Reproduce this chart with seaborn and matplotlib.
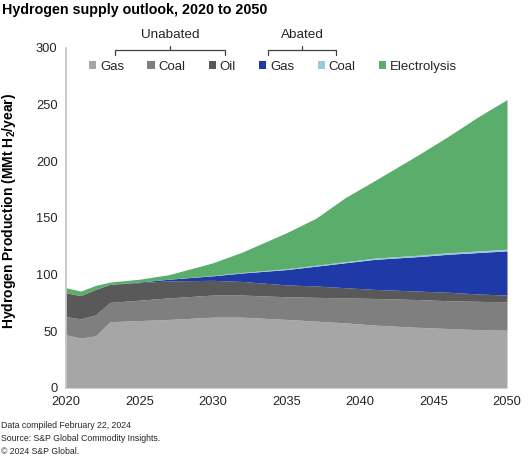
import pandas as pd
import matplotlib.pyplot as plt
import seaborn as sns
from matplotlib.lines import Line2D
from matplotlib.patches import Patch

# Values (MMt H2 / year)
years = [2020, 2021, 2022, 2023, 2025, 2027, 2030, 2032, 2035, 2037, 2039, 2041, 2044, 2046, 2048, 2050]
gas_unabated = [47, 44, 46, 58.5, 59.5, 60.5, 62.5, 62.5, 60.5, 59, 57.5, 55.5, 53.5, 52.5, 51.5, 51]
coal_unabated = [16, 17, 18.5, 17, 18, 19, 19.5, 19.5, 20, 21, 22, 23.5, 24.5, 24.5, 25, 25]
oil_unabated = [21, 20.5, 22.5, 16, 15.5, 15, 13, 12, 10.5, 10, 9, 8, 7.5, 7.5, 6.5, 6]
gas_abated = [0, 0, 0, 0, 0.5, 1.5, 4, 7.5, 13.5, 17.5, 22, 26.5, 30.5, 33.5, 36.5, 39]
coal_abated = [0, 0, 0, 0, 0, 0, 0.3, 0.5, 0.7, 0.8, 1, 1.1, 1.2, 1.3, 1.4, 1.5]
electrolysis = [4.5, 4, 3.5, 2, 2.5, 4, 11.2, 18, 31.8, 41.5, 56.5, 68.4, 88.8, 102.7, 118.1, 132]

labels = ["Gas", "Coal", "Oil", "Gas", "Coal", "Electrolysis"]
colors = ["#a6a6a6", "#7f7f7f", "#595959", "#1f39a6", "#9dc8dc", "#5aad6a"]

df = pd.DataFrame({
    "year": years,
    "gas_u": gas_unabated,
    "coal_u": coal_unabated,
    "oil_u": oil_unabated,
    "gas_a": gas_abated,
    "coal_a": coal_abated,
    "elec": electrolysis,
})

sns.set_theme(style="white")
plt.rcParams["font.family"] = ["Liberation Sans", "DejaVu Sans"]
plt.rcParams["mathtext.fontset"] = "custom"
plt.rcParams["mathtext.rm"] = "Liberation Sans"
plt.rcParams["mathtext.bf"] = "Liberation Sans:bold"

W, H = 531, 458
fig = plt.figure(figsize=(W / 100, H / 100), dpi=100)
ax = fig.add_axes([66 / W, 1 - 388 / H, 441 / W, 340 / H])

ax.stackplot(df["year"], df["gas_u"], df["coal_u"], df["oil_u"],
             df["gas_a"], df["coal_a"], df["elec"], colors=colors, lw=0)

ax.set_xlim(2020, 2050)
ax.set_ylim(0, 300)
ax.set_xticks(range(2020, 2051, 5))
ax.set_yticks(range(0, 301, 50))
ax.tick_params(axis="both", length=0, labelsize=9.3, labelcolor="#262626", pad=6)
for s in ["top", "right", "bottom"]:
    ax.spines[s].set_visible(False)
ax.spines["left"].set_color("#c0c0c0")
ax.spines["left"].set_linewidth(1.2)

ax.set_ylabel(r"Hydrogen Production (MMt H$_\mathbf{2}$/year)", fontsize=10,
              fontweight="bold", color="#000000")
ax.yaxis.set_label_coords(-0.108, 0.52)

# legend
handles = [Patch(facecolor=c, edgecolor="none") for c in colors]
ax.legend(handles, labels, ncol=6, loc="center", bbox_to_anchor=(273 / W, 1 - 67 / H),
          bbox_transform=fig.transFigure, frameon=False, fontsize=9.5,
          handlelength=0.55, handleheight=0.55, handletextpad=0.3,
          columnspacing=1.75, labelcolor="#262626")

# brackets over the legend groups
def bracket(x0, x1, text):
    fx = lambda x: x / W
    fy = lambda y: 1 - y / H
    kw = dict(color="#404040", lw=0.9, transform=fig.transFigure)
    fig.add_artist(Line2D([fx(x0), fx(x0), fx(x1), fx(x1)],
                          [fy(55), fy(50), fy(50), fy(55)], **kw))
    xm = (x0 + x1) / 2
    fig.add_artist(Line2D([fx(xm), fx(xm)], [fy(50), fy(46)], **kw))
    fig.text(fx(xm), fy(35), text, ha="center", va="center", fontsize=9.7, color="#262626")

bracket(115, 225, "Unabated")
bracket(268, 336, "Abated")

fig.text(2 / W, 1 - 3 / H, "Hydrogen supply outlook, 2020 to 2050", fontsize=10.3,
         fontweight="bold", va="top", ha="left", color="#000000")

notes = ["Data compiled February 22, 2024",
         "Source: S&P Global Commodity Insights.",
         "\u00a9 2024 S&P Global."]
for i, n in enumerate(notes):
    fig.text(1 / W, 1 - (426 + 12.5 * i) / H, n, fontsize=6.3, va="center",
             ha="left", color="#262626")

fig.savefig("out.png", dpi=100)
